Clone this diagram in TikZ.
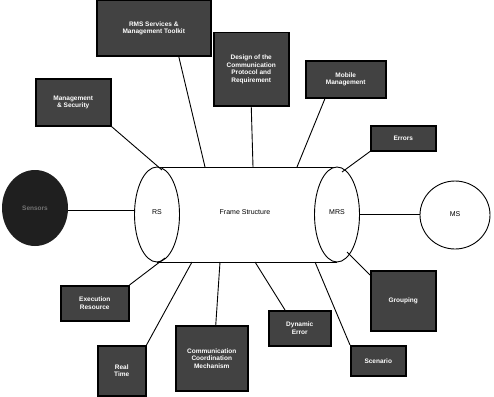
\documentclass[tikz,border=0pt]{standalone}
\usepackage{fontspec}
\setmainfont{Liberation Sans}
\begin{document}
\begin{tikzpicture}[x=1pt,y=-1pt,
  dbox/.style={draw=black,line width=1.5pt,fill=black!74,text=white!85,font=\bfseries\fontsize{6.5}{7.5}\selectfont,align=center,inner sep=1pt,anchor=north west},
  conn/.style={line width=0.9pt},
  lbl/.style={font=\fontsize{7}{8}\selectfont},
]
\useasboundingbox (0,0) rectangle (494,396);
% cylinder body
\fill[white] (157,167) rectangle (337,262);
\coordinate (ctl) at (157,167); \coordinate (ctr) at (337,167);
\coordinate (cbl) at (157,262); \coordinate (cbr) at (337,262);
\draw[line width=0.9pt] (ctl) -- (ctr) (cbl) -- (cbr);
\draw[line width=0.9pt,fill=white] (157,214.5) ellipse [x radius=22.5,y radius=47.5];
\draw[line width=0.9pt,fill=white] (337,214.5) ellipse [x radius=22.5,y radius=47.5];
\node[lbl] (rs) at (157,212) {RS};
\node[lbl] (frame) at (245,212) {Frame Structure};
\node[lbl] (mrs) at (337,212) {MRS};
\coordinate (rsL) at (134.5,210);
\coordinate (mrsR) at (359.5,214);
% MS
\draw[line width=0.9pt] (455,215) ellipse [x radius=35,y radius=34];
\node[lbl] (ms) at (455,214) {MS};
\coordinate (msL) at (420,214);
% dark ellipse
\fill[black!88] (35,208) ellipse [x radius=33,y radius=38];
\node[text=black!55,font=\bfseries\fontsize{6.5}{7.5}\selectfont] (sens) at (35,208) {Sensors};
\coordinate (sensR) at (68,210);
\draw[conn] (sensR) -- (rsL);
\draw[conn] (mrsR) -- (msL);
% top boxes
\node[dbox,minimum width=114,minimum height=55] (b1) at (96,0) {RMS Services \&\\Management Toolkit};
\node[dbox,minimum width=75,minimum height=73] (b2) at (213,32) {Design of the\\Communication\\Protocol and\\Requirement};
\node[dbox,minimum width=80,minimum height=37] (b3) at (305,60) {Mobile\\Management};
\node[dbox,minimum width=75,minimum height=47] (b4) at (35,78) {Management\\\& Security};
\node[dbox,minimum width=65,minimum height=25] (b5) at (370,125) {Errors};
% bottom boxes
\node[dbox,minimum width=68,minimum height=35] (b6) at (60,285) {Execution\\Resource};
\node[dbox,minimum width=48,minimum height=50] (b7) at (97,345) {Real\\Time};
\node[dbox,minimum width=72,minimum height=65] (b8) at (175,325) {Communication\\Coordination\\Mechanism};
\node[dbox,minimum width=62,minimum height=35] (b9) at (268,310) {Dynamic\\Error};
\node[dbox,minimum width=55,minimum height=30] (b10) at (350,345) {Scenario};
\node[dbox,minimum width=65,minimum height=60] (b11) at (370,270) {Grouping};
% connectors
\coordinate (t1) at (205,167); \coordinate (t2) at (253,167); \coordinate (t3) at (297,167);
\coordinate (t4) at (162,170); \coordinate (t5) at (342,172);
\coordinate (u6) at (165,258); \coordinate (u7) at (192,262); \coordinate (u8) at (220,262);
\coordinate (u9) at (255,262); \coordinate (u10) at (315,262); \coordinate (u11) at (347,252);
\draw[conn] (b1.south) ++(25,0) -- (t1);
\draw[conn] (b2.south) -- (t2);
\draw[conn] (b3.south west) ++(20,0) -- (t3);
\draw[conn] (b4.south east) -- (t4);
\draw[conn] (b5.south west) -- (t5);
\draw[conn] (b6.north east) -- (u6);
\draw[conn] (b7.north east) -- (u7);
\draw[conn] (b8.north) ++(4,0) -- (u8);
\draw[conn] (b9.north west) ++(17,0) -- (u9);
\draw[conn] (b10.north west) -- (u10);
\draw[conn] (b11.north west) ++(0,5) -- (u11);
\end{tikzpicture}
\end{document}
